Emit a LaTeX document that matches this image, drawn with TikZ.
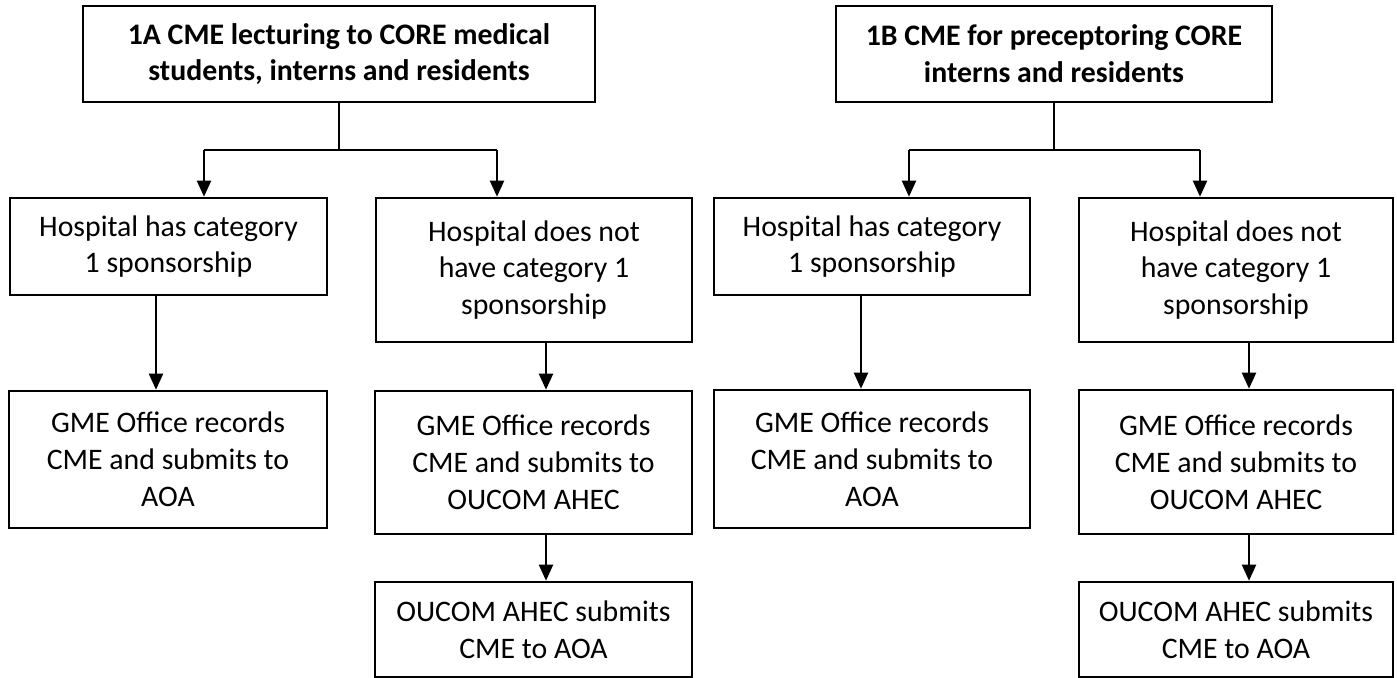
\documentclass[tikz,border=0pt]{standalone}
\usepackage{fontspec}
\setmainfont{Carlito}
\usetikzlibrary{arrows.meta}
\begin{document}
\begin{tikzpicture}[x=0.5pt,y=-0.5pt,
  box/.style={draw=black, line width=1.3pt, fill=white, align=center, inner sep=0pt,
    font=\fontsize{14.9pt}{18.4pt}\selectfont},
  titlebox/.style={box, font=\fontsize{14.9pt}{18.4pt}\selectfont\bfseries},
  conn/.style={line width=1.05pt},
  arr/.style={conn, -{Triangle[length=8pt,width=7pt]}}]
\useasboundingbox (0,0) rectangle (1397,678);
\fill[white] (0,0) rectangle (1397,678);
% top boxes
\node[titlebox, minimum width=256pt, minimum height=48pt] (tA) at (339,54)
  {1A CME lecturing to CORE medical\\students, interns and residents};
\node[titlebox, minimum width=218pt, minimum height=48pt] (tB) at (1054,54)
  {1B CME for preceptoring CORE\\interns and residents};
% left tree
\node[box, minimum width=158.5pt, minimum height=48.5pt] (hhcA) at (168.5,246.5)
  {Hospital has category\\1 sponsorship};
\node[box, minimum width=158pt, minimum height=72pt] (hdnA) at (534,270)
  {Hospital does not\\have category 1\\sponsorship};
\node[box, minimum width=159pt, minimum height=68.5pt] (gmeA) at (168,459.5)
  {GME Office records\\CME and submits to\\AOA};
\node[box, minimum width=158.5pt, minimum height=71.5pt] (gmeAA) at (533.5,462.5)
  {GME Office records\\CME and submits to\\OUCOM AHEC};
\node[box, minimum width=158.5pt, minimum height=47.5pt] (oucA) at (533.5,629.5)
  {OUCOM AHEC submits\\CME to AOA};
% right tree
\node[box, minimum width=158pt, minimum height=48.5pt] (hhcB) at (872,246.5)
  {Hospital has category\\1 sponsorship};
\node[box, minimum width=157pt, minimum height=72pt] (hdnB) at (1236,270)
  {Hospital does not\\have category 1\\sponsorship};
\node[box, minimum width=158pt, minimum height=69pt] (gmeB) at (872,459)
  {GME Office records\\CME and submits to\\AOA};
\node[box, minimum width=157pt, minimum height=72pt] (gmeBB) at (1236,462)
  {GME Office records\\CME and submits to\\OUCOM AHEC};
\node[box, minimum width=157pt, minimum height=47.5pt] (oucB) at (1236,629.5)
  {OUCOM AHEC submits\\CME to AOA};
% junction coordinates
\coordinate (jA) at (339,150);
\coordinate (jAl) at (204,150);
\coordinate (jAr) at (497,150);
\coordinate (xA1) at (156,0);
\coordinate (xA2) at (546,0);
\coordinate (jB) at (1054,150);
\coordinate (jBl) at (909,150);
\coordinate (jBr) at (1200,150);
\coordinate (xB1) at (861,0);
\coordinate (xB2) at (1249,0);
% left connectors
\draw[conn] (tA.south) -- (jA);
\draw[conn] (jAl) -- (jAr);
\draw[arr] (jAl) -- (jAl |- hhcA.north);
\draw[arr] (jAr) -- (jAr |- hdnA.north);
\draw[arr] (xA1 |- hhcA.south) -- (xA1 |- gmeA.north);
\draw[arr] (xA2 |- hdnA.south) -- (xA2 |- gmeAA.north);
\draw[arr] (xA2 |- gmeAA.south) -- (xA2 |- oucA.north);
% right connectors
\draw[conn] (tB.south) -- (jB);
\draw[conn] (jBl) -- (jBr);
\draw[arr] (jBl) -- (jBl |- hhcB.north);
\draw[arr] (jBr) -- (jBr |- hdnB.north);
\draw[arr] (xB1 |- hhcB.south) -- (xB1 |- gmeB.north);
\draw[arr] (xB2 |- hdnB.south) -- (xB2 |- gmeBB.north);
\draw[arr] (xB2 |- gmeBB.south) -- (xB2 |- oucB.north);
\end{tikzpicture}
\end{document}
